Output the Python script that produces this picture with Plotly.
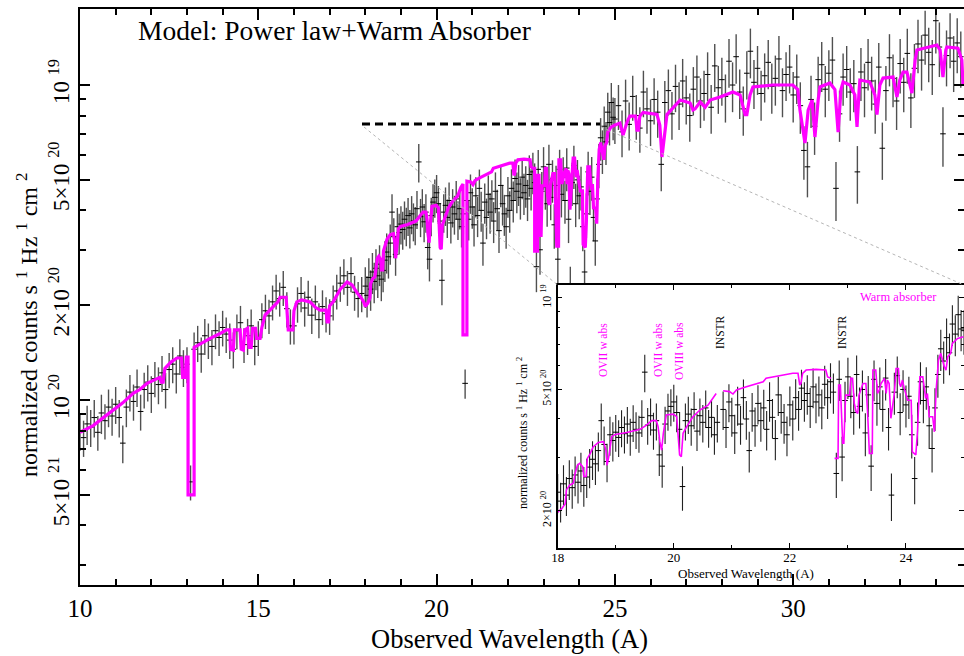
import plotly.graph_objects as go

UNIT = 1e-20  # flux lists below are in units of 1e-20 counts s^-1 Hz^-1 cm^-2

# ---------------- observed data (wavelength, flux, 1-sigma error) ----------------
wl_a = [10.0, 10.1, 10.2, 10.3, 10.4, 10.5, 10.6, 10.7, 10.8, 10.9,
        11.0, 11.1, 11.2, 11.3, 11.4, 11.5, 11.6, 11.7, 11.8, 11.9,
        12.0, 12.1, 12.2, 12.3, 12.4, 12.5, 12.6, 12.7, 12.8, 12.9,
        13.0, 13.1, 13.2, 13.3, 13.4, 13.5, 13.6, 13.7, 13.8, 13.9,
        14.0, 14.1, 14.2, 14.3, 14.4, 14.5, 14.6, 14.7, 14.8, 14.9,
        15.0, 15.1, 15.2, 15.3, 15.4, 15.5, 15.6, 15.7, 15.8, 15.9,
        16.0, 16.1, 16.2, 16.3, 16.4, 16.5, 16.6, 16.7, 16.8, 16.9,
        17.0, 17.1, 17.2, 17.3, 17.4, 17.5, 17.6, 17.7, 17.8, 17.9]
flux_a = [0.80, 0.76, 0.84, 0.82, 0.88, 0.79, 0.91, 0.86, 0.95, 0.89,
          0.97, 0.88, 0.73, 0.95, 1.06, 0.99, 1.10, 0.92, 1.08, 1.14,
          1.05, 1.17, 1.12, 1.22, 1.08, 1.25, 1.30, 1.21, 1.38, 1.27,
          1.30, 0.55, 1.45, 1.52, 1.40, 1.60, 1.55, 1.48, 1.66, 1.58,
          1.70, 1.62, 1.55, 1.45, 1.66, 1.76, 1.50, 1.60, 1.72, 1.48,
          1.58, 1.80, 1.92, 1.85, 2.05, 2.22, 2.10, 2.28, 1.95, 1.72,
          1.72, 2.02, 2.18, 1.96, 2.12, 1.86, 2.05, 1.80, 1.98, 1.88,
          1.85, 2.05, 2.22, 2.35, 2.48, 2.28, 2.52, 2.20, 2.10, 2.18]
err_a = [0.11, 0.10, 0.12, 0.11, 0.12, 0.10, 0.13, 0.11, 0.13, 0.12,
         0.13, 0.12, 0.10, 0.13, 0.14, 0.13, 0.15, 0.12, 0.14, 0.15,
         0.14, 0.15, 0.15, 0.16, 0.14, 0.16, 0.17, 0.16, 0.18, 0.17,
         0.17, 0.07, 0.19, 0.20, 0.18, 0.21, 0.20, 0.19, 0.21, 0.20,
         0.22, 0.21, 0.20, 0.19, 0.21, 0.23, 0.19, 0.21, 0.22, 0.19,
         0.20, 0.23, 0.24, 0.23, 0.26, 0.28, 0.26, 0.29, 0.25, 0.22,
         0.22, 0.26, 0.28, 0.25, 0.27, 0.24, 0.26, 0.23, 0.25, 0.24,
         0.24, 0.26, 0.28, 0.30, 0.32, 0.29, 0.32, 0.28, 0.27, 0.28]

wl_b = [18.00, 18.05, 18.10, 18.15, 18.20, 18.25, 18.30, 18.35, 18.40, 18.45,
        18.50, 18.55, 18.60, 18.65, 18.70, 18.75, 18.80, 18.85, 18.90, 18.95,
        19.00, 19.05, 19.10, 19.15, 19.20, 19.25, 19.30, 19.35, 19.40, 19.45,
        19.50, 19.55, 19.60, 19.65, 19.70, 19.75, 19.80, 19.85, 19.90, 19.95,
        20.00, 20.05, 20.10, 20.15, 20.20, 20.25, 20.30, 20.35, 20.40, 20.45,
        20.50, 20.55, 20.60, 20.65, 20.70, 20.75, 20.80, 20.85, 20.90, 20.95,
        21.00, 21.05, 21.10, 21.15, 21.20, 21.25, 21.30, 21.35, 21.40, 21.45,
        21.50, 21.55, 21.60, 21.65, 21.70, 21.75, 21.80, 21.85, 21.90, 21.95,
        22.00, 22.05, 22.10, 22.15, 22.20, 22.25, 22.30, 22.35, 22.40, 22.45,
        22.50, 22.55, 22.60, 22.65, 22.70, 22.75, 22.80, 22.85, 22.90, 22.95,
        23.00, 23.05, 23.10, 23.15, 23.20, 23.25, 23.30, 23.35, 23.40, 23.45,
        23.50, 23.55, 23.60, 23.65, 23.70, 23.75, 23.80, 23.85, 23.90, 23.95,
        24.00, 24.05, 24.10, 24.15, 24.20, 24.25, 24.30, 24.35, 24.40, 24.45,
        24.50, 24.55, 24.60, 24.65, 24.70, 24.75, 24.80, 24.85, 24.90, 24.95]
flux_b = [2.30, 2.15, 2.45, 2.25, 2.55, 2.38, 2.62, 2.48, 2.70, 2.42,
          2.58, 2.78, 2.95, 2.85, 3.15, 3.95, 3.30, 2.90, 3.55, 3.40,
          3.62, 3.48, 3.75, 3.58, 3.85, 3.52, 3.90, 3.70, 3.60, 4.05,
          5.70, 3.82, 4.10, 3.68, 3.95, 3.05, 2.80, 3.85, 4.25, 4.40,
          4.55, 4.20, 3.70, 2.40, 3.95, 4.15, 3.80, 4.30, 3.65, 4.10,
          3.90, 4.35, 3.75, 4.05, 3.55, 3.90, 1.13, 4.30, 3.75, 4.55,
          4.10, 3.60, 4.45, 3.85, 4.70, 4.00, 3.15, 4.25, 3.80, 4.50,
          3.95, 4.35, 3.70, 4.60, 4.05, 3.45, 4.80, 4.20, 3.90, 3.55,
          4.45, 4.00, 4.70, 4.30, 5.05, 4.60, 4.85, 4.40, 5.10, 4.55,
          4.80, 4.35, 5.20, 4.70, 5.30, 4.90, 2.65, 5.40, 3.00, 4.60,
          5.50, 4.75, 4.20, 5.60, 4.40, 5.00, 3.60, 4.80, 2.80, 5.40,
          4.50, 5.10, 4.30, 5.45, 3.75, 2.25, 4.90, 5.55, 4.20, 5.00,
          4.45, 4.75, 3.55, 2.55, 3.90, 5.30, 4.60, 5.10, 3.80, 3.20,
          4.35, 5.60, 6.80, 6.20, 7.40, 6.60, 8.20, 7.60, 8.80, 7.90]
err_b = [0.34, 0.32, 0.37, 0.33, 0.38, 0.35, 0.39, 0.37, 0.40, 0.36,
         0.38, 0.41, 0.43, 0.42, 0.46, 0.55, 0.48, 0.42, 0.52, 0.50,
         0.50, 0.48, 0.52, 0.50, 0.53, 0.49, 0.54, 0.51, 0.50, 0.56,
         0.80, 0.53, 0.57, 0.51, 0.55, 0.45, 0.42, 0.54, 0.59, 0.61,
         0.63, 0.58, 0.52, 0.40, 0.55, 0.58, 0.53, 0.60, 0.51, 0.57,
         0.55, 0.61, 0.53, 0.57, 0.50, 0.55, 0.12, 0.62, 0.54, 0.65,
         0.60, 0.53, 0.65, 0.56, 0.69, 0.58, 0.48, 0.62, 0.56, 0.66,
         0.58, 0.64, 0.55, 0.68, 0.60, 0.52, 0.71, 0.62, 0.58, 0.53,
         0.66, 0.60, 0.70, 0.64, 0.75, 0.68, 0.72, 0.66, 0.76, 0.68,
         0.72, 0.65, 0.78, 0.70, 0.80, 0.74, 0.45, 0.82, 0.50, 0.70,
         0.85, 0.73, 0.65, 0.86, 0.68, 0.77, 0.58, 0.74, 0.48, 0.83,
         0.70, 0.80, 0.67, 0.85, 0.60, 0.40, 0.77, 0.87, 0.66, 0.78,
         0.70, 0.75, 0.58, 0.45, 0.63, 0.84, 0.73, 0.81, 0.61, 0.53,
         0.70, 0.90, 1.05, 0.98, 1.15, 1.03, 1.25, 1.17, 1.35, 1.22]

wl_c = [25.0, 25.1, 25.2, 25.3, 25.4, 25.5, 25.6, 25.7, 25.8, 25.9,
        26.0, 26.1, 26.2, 26.3, 26.4, 26.5, 26.6, 26.7, 26.8, 26.9,
        27.0, 27.1, 27.2, 27.3, 27.4, 27.5, 27.6, 27.7, 27.8, 27.9,
        28.0, 28.1, 28.2, 28.3, 28.4, 28.5, 28.6, 28.7, 28.8, 28.9,
        29.0, 29.1, 29.2, 29.3, 29.4, 29.5, 29.6, 29.7, 29.8, 29.9,
        30.0, 30.1, 30.2, 30.3, 30.4, 30.5, 30.6, 30.7, 30.8, 30.9,
        31.0, 31.1, 31.2, 31.3, 31.4, 31.5, 31.6, 31.7, 31.8, 31.9,
        32.0, 32.1, 32.2, 32.3, 32.4, 32.5, 32.6, 32.7, 32.8, 32.9,
        33.0, 33.1, 33.2, 33.3, 33.4, 33.5, 33.6, 33.7, 33.8, 33.9,
        34.0, 34.1, 34.2, 34.3, 34.4, 34.5, 34.6, 34.7]
flux_c = [7.8, 8.6, 7.1, 8.9, 7.5, 9.2, 8.0, 7.3, 9.5, 8.4,
          7.7, 9.0, 8.2, 5.6, 8.8, 9.6, 8.1, 9.9, 8.7, 10.3,
          9.1, 8.0, 9.7, 10.6, 8.9, 9.4, 10.8, 8.5, 11.5, 9.8,
          10.4, 9.2, 11.9, 10.0, 12.3, 9.5, 8.4, 10.9, 12.8, 10.2,
          11.3, 9.4, 10.7, 11.8, 9.9, 10.5, 12.1, 9.6, 10.8, 11.4,
          9.3, 10.6, 8.6, 6.2, 5.5, 9.0, 7.4, 10.4, 11.6, 9.7,
          10.9, 12.0, 4.7, 8.1, 10.6, 11.2, 9.5, 10.1, 5.3, 11.0,
          9.8, 11.8, 10.3, 8.7, 11.4, 6.3, 9.6, 12.2, 10.5, 8.9,
          11.7, 10.2, 12.6, 9.1, 11.3, 13.5, 12.0, 14.4, 12.7, 11.6,
          16.0, 13.2, 7.0, 12.4, 14.1, 11.9, 13.6, 12.3]
err_c = [1.3, 1.4, 1.2, 1.5, 1.3, 1.5, 1.3, 1.2, 1.6, 1.4,
         1.3, 1.5, 1.4, 1.0, 1.5, 1.6, 1.4, 1.7, 1.5, 1.8,
         1.6, 1.4, 1.7, 1.8, 1.6, 1.7, 1.9, 1.5, 2.0, 1.7,
         1.8, 1.6, 2.1, 1.8, 2.2, 1.7, 1.5, 1.9, 2.3, 1.8,
         2.0, 1.7, 1.9, 2.1, 1.8, 1.9, 2.2, 1.7, 1.9, 2.0,
         1.7, 1.9, 1.6, 1.2, 1.1, 1.7, 1.4, 1.9, 2.1, 1.8,
         2.0, 2.2, 1.0, 1.5, 2.0, 2.1, 1.8, 1.9, 1.1, 2.1,
         1.9, 2.2, 2.0, 1.7, 2.2, 1.3, 1.9, 2.3, 2.0, 1.7,
         2.3, 2.0, 2.5, 1.8, 2.2, 2.6, 2.4, 2.8, 2.5, 2.3,
         3.4, 2.6, 1.5, 2.5, 2.8, 2.4, 2.7, 2.5]

# ---------------- model: power law + warm absorber (main panel) ----------------
wl_model = [10.00, 10.20, 10.37, 10.60, 10.93, 11.20, 11.49, 11.68, 11.88, 12.10,
            12.24, 12.28, 12.33, 12.38, 12.55, 12.72, 12.85, 12.88, 12.95, 12.98,
            13.03, 13.03, 13.20, 13.20, 13.45, 13.65, 13.90, 14.11, 14.20, 14.22,
            14.30, 14.33, 14.49, 14.52, 14.58, 14.62, 14.70, 14.74, 14.80, 14.84,
            14.92, 14.95, 15.05, 15.10, 15.19, 15.38, 15.55, 15.61, 15.78, 15.84,
            15.97, 16.00, 16.08, 16.22, 16.45, 16.60, 16.73, 16.90, 16.93, 16.97,
            17.00, 17.10, 17.30, 17.49, 17.63, 17.77, 17.90, 17.97,
            18.00, 18.07, 18.13, 18.15, 18.21, 18.27, 18.30, 18.34, 18.38, 18.43,
            18.45, 18.49, 18.51, 18.56, 18.61, 18.70, 18.79, 18.83, 18.85, 18.88,
            18.93, 18.99, 19.19, 19.42, 19.53, 19.62, 19.70, 19.73, 19.76, 19.79,
            19.82, 19.87, 19.99, 20.05, 20.10, 20.13, 20.16, 20.22, 20.33, 20.45,
            20.59, 20.68, 20.73, 20.74, 20.74, 20.85, 20.85, 20.96, 21.02, 21.08,
            21.25, 21.36, 21.54, 21.59, 21.77, 21.94, 22.05, 22.14, 22.17, 22.19,
            22.22, 22.28, 22.45, 22.62, 22.65, 22.71, 22.75, 22.75, 22.83, 22.84,
            22.87, 22.91, 22.93, 22.96, 23.03, 23.05, 23.08, 23.11, 23.14, 23.17,
            23.19, 23.26, 23.31, 23.34, 23.37, 23.42, 23.43, 23.48, 23.51, 23.54,
            23.57, 23.63, 23.66, 23.68, 23.71, 23.74, 23.77, 23.80, 23.83, 23.87,
            23.89, 23.91, 23.94, 23.97, 24.03, 24.09, 24.11, 24.17, 24.20, 24.24,
            24.29, 24.32, 24.34, 24.37, 24.40, 24.46, 24.49, 24.52, 24.56, 24.60,
            24.66, 24.69, 24.72, 24.77, 24.80, 24.89, 24.99,
            25.14, 25.23, 25.34, 25.42, 25.58, 25.62, 25.66, 25.70, 25.79, 26.18,
            26.26, 26.32, 26.38, 26.46, 26.83, 27.11, 27.19, 27.25, 27.39, 27.53,
            27.67, 27.95, 28.31, 28.51, 28.65, 28.70, 28.79, 28.87, 29.43, 29.99,
            30.13, 30.19, 30.33, 30.42, 30.53, 30.61, 30.70, 30.75, 31.03, 31.17,
            31.26, 31.34, 31.40, 31.59, 31.73, 31.79, 31.85, 31.87, 32.15, 32.29,
            32.35, 32.43, 32.52, 32.80, 32.91, 32.99, 33.08, 33.19, 33.33, 33.42,
            33.47, 33.70, 34.03, 34.12, 34.20, 34.28, 34.31, 34.62, 34.73, 34.76,
            34.80]
flux_model = [0.79, 0.81, 0.83, 0.87, 0.93, 0.98, 1.05, 1.08, 1.13, 1.16,
              1.18, 1.14, 1.14, 1.26, 1.32, 1.36, 1.36, 1.18, 1.18, 1.37,
              1.37, 0.50, 0.50, 1.47, 1.53, 1.57, 1.62, 1.67, 1.67, 1.45,
              1.44, 1.67, 1.67, 1.45, 1.44, 1.67, 1.69, 1.47, 1.47, 1.69,
              1.69, 1.57, 1.57, 1.70, 1.86, 1.96, 2.05, 2.12, 2.12, 1.67,
              1.67, 1.92, 2.05, 2.08, 2.05, 1.97, 1.93, 1.93, 1.77, 1.77,
              1.99, 2.05, 2.25, 2.37, 2.32, 2.19, 2.10, 2.03,
              1.98, 2.03, 2.11, 2.34, 2.43, 2.46, 2.65, 2.82, 2.86, 2.79,
              2.59, 2.59, 2.97, 3.08, 3.24, 3.35, 3.37, 3.16, 2.82, 3.01,
              3.50, 3.56, 3.61, 3.70, 3.82, 3.95, 3.95, 3.77, 3.37, 3.16,
              3.59, 4.12, 4.15, 4.07, 3.05, 3.01, 3.59, 3.77, 4.07, 4.28,
              4.44, 4.73, 4.85, 4.85, 1.61, 1.61, 4.95, 4.92, 4.83, 4.98,
              5.10, 5.17, 5.30, 5.44, 5.53, 5.62, 5.65, 5.65, 5.17, 5.23,
              5.65, 5.79, 5.82, 5.79, 5.50, 5.44, 5.44, 2.97, 2.97, 5.17,
              5.17, 3.33, 3.33, 4.79, 4.79, 5.44, 5.44, 4.50, 4.23, 4.17,
              4.79, 5.23, 5.23, 4.17, 3.08, 3.08, 5.79, 5.79, 4.85, 4.98,
              5.23, 5.44, 4.85, 5.37, 5.23, 4.02, 4.50, 4.85, 5.86, 5.86,
              5.23, 5.10, 5.37, 5.04, 4.61, 4.61, 3.12, 3.05, 3.68, 5.50,
              5.50, 4.85, 4.67, 4.85, 4.07, 4.07, 3.63, 4.98, 6.24, 6.57,
              5.94, 5.79, 6.40, 6.57, 7.08, 7.35, 7.45,
              7.57, 6.94, 7.63, 7.97, 7.97, 7.19, 7.19, 7.97, 8.18, 8.06,
              7.45, 5.91, 6.69, 8.06, 8.96, 8.77, 8.33, 8.40, 8.83, 8.50,
              8.96, 9.16, 9.50, 9.30, 8.06, 8.06, 9.30, 9.86, 10.00, 10.00,
              9.67, 8.33, 6.54, 8.33, 8.96, 6.84, 8.96, 9.86, 10.15, 9.67,
              7.09, 9.67, 10.22, 10.00, 9.30, 7.36, 9.67, 10.37, 10.22, 9.30,
              8.06, 10.00, 10.52, 10.60, 9.16, 10.37, 10.99, 10.99, 9.43, 12.00,
              12.91, 13.09, 13.40, 12.91, 10.60, 12.91, 13.20, 13.09, 12.00, 10.15,
              10.15]

# ---------------- model in the inset (18-25 A, gaps where not drawn) ----------------
wl_model_in = [18.00, 18.07, 18.13, 18.15, 18.21, 18.27, 18.30, 18.34, 18.38, 18.43,
               18.45, 18.49, 18.51, 18.56, 18.61, 18.70, 18.79, 18.83, 18.85, 18.88,
               18.93, 18.99, 19.19, 19.42, 19.53, 19.62, 19.70, 19.73, 19.76, 19.79,
               19.82, 19.87, 19.99, 20.05, 20.10, 20.13, 20.16, 20.22, 20.33, 20.45,
               20.59, 20.68, 20.73, None, 20.85, 20.96, 21.02, 21.08, 21.25, 21.36,
               21.54, 21.59, 21.77, 21.94, 22.05, 22.14, 22.17, 22.19, 22.22, 22.28,
               22.45, 22.62, 22.65, 22.71, None, 22.77, 22.83, 22.84, 22.87, 22.91,
               22.93, 22.96, 23.03, 23.05, 23.08, 23.11, 23.14, 23.17, 23.19, 23.26,
               23.31, 23.34, 23.37, 23.42, 23.43, 23.48, 23.51, 23.54, 23.57, 23.63,
               23.66, 23.68, 23.71, 23.74, 23.77, 23.80, 23.83, 23.87, 23.89, 23.91,
               23.94, 23.97, 24.03, 24.09, 24.11, 24.17, 24.20, 24.24, 24.29, 24.32,
               24.34, 24.37, 24.40, 24.46, 24.49, 24.52, 24.56, 24.60, 24.66, 24.69,
               24.72, 24.77, 24.80, 24.89, 24.99]
flux_model_in = [1.98, 2.03, 2.11, 2.34, 2.43, 2.46, 2.65, 2.82, 2.86, 2.79,
                 2.59, 2.59, 2.97, 3.08, 3.24, 3.35, 3.37, 3.16, 2.82, 3.01,
                 3.50, 3.56, 3.61, 3.70, 3.82, 3.95, 3.95, 3.77, 3.37, 3.16,
                 3.59, 4.12, 4.15, 4.07, 3.05, 3.01, 3.59, 3.77, 4.07, 4.28,
                 4.44, 4.73, 4.85, None, 4.95, 4.92, 4.83, 4.98, 5.10, 5.17,
                 5.30, 5.44, 5.53, 5.62, 5.65, 5.65, 5.17, 5.23, 5.65, 5.79,
                 5.82, 5.79, 5.50, 5.44, None, 2.97, 2.97, 5.17, 5.17, 3.33,
                 3.33, 4.79, 4.79, 5.44, 5.44, 4.50, 4.23, 4.17, 4.79, 5.23,
                 5.23, 4.17, 3.08, 3.08, 5.79, 5.79, 4.85, 4.98, 5.23, 5.44,
                 4.85, 5.37, 5.23, 4.02, 4.50, 4.85, 5.86, 5.86, 5.23, 5.10,
                 5.37, 5.04, 4.61, 4.61, 3.12, 3.05, 3.68, 5.50, 5.50, 4.85,
                 4.67, 4.85, 4.07, 4.07, 3.63, 4.98, 6.24, 6.57, 5.94, 5.79,
                 6.40, 6.57, 7.08, 7.35, 7.45]

# ---------------- tick values / labels ----------------
x_ticks = [10, 15, 20, 25, 30]
x_minor = [11, 12, 13, 14, 16, 17, 18, 19, 21, 22, 23, 24, 26, 27, 28, 29, 31, 32, 33, 34]
y_ticks = [5e-21, 1e-20, 2e-20, 5e-20, 1e-19]
y_ticktext = ["5×10 <sup>21</sup>", "10 <sup>20</sup>", "2×10 <sup>20</sup>",
              "5×10 <sup>20</sup>", "10 <sup>19</sup>"]
y_minor = [3e-21, 4e-21, 6e-21, 7e-21, 8e-21, 9e-21,
           3e-20, 4e-20, 6e-20, 7e-20, 8e-20, 9e-20]
xin_ticks = [18, 20, 22, 24]
xin_minor = [19, 21, 23]
yin_ticks = [2e-20, 5e-20, 1e-19]
yin_ticktext = ["2×10 <sup>20</sup>", "5×10 <sup>20</sup>", "10 <sup>19</sup>"]
yin_minor = [3e-20, 4e-20, 6e-20, 7e-20, 8e-20, 9e-20]

# ---------------- layout geometry (pixels) ----------------
W, H = 964, 656
ML, MR, MT, MB = 80, 0, 9, 71
PW, PH = W - ML - MR, H - MT - MB


def px(x):
    return (x - ML) / PW


def py(y):
    return (H - MB - y) / PH


FONT = "Liberation Serif, Times New Roman, serif"
MAGENTA = "#ff00ff"

wl_all = wl_a + wl_b + wl_c
flux_all = [v * UNIT for v in flux_a + flux_b + flux_c]
err_all = [v * UNIT for v in err_a + err_b + err_c]
model_main = [v * UNIT for v in flux_model]
model_in = [None if v is None else v * UNIT for v in flux_model_in]

fig = go.Figure()

# main panel
fig.add_trace(go.Scatter(
    x=wl_all, y=flux_all, mode="markers", xaxis="x", yaxis="y",
    marker=dict(symbol="line-ew", size=4, line=dict(width=1, color="black")),
    error_y=dict(type="data", array=err_all, color="#505050", thickness=1.4, width=0),
    showlegend=False, hoverinfo="skip"))
fig.add_trace(go.Scatter(
    x=wl_model, y=model_main, mode="lines", xaxis="x", yaxis="y",
    line=dict(color=MAGENTA, width=3.2), showlegend=False, hoverinfo="skip"))

# inset panel
fig.add_trace(go.Scatter(
    x=wl_all, y=flux_all, mode="markers", xaxis="x2", yaxis="y2",
    marker=dict(symbol="line-ew", size=4, line=dict(width=1, color="black")),
    error_y=dict(type="data", array=err_all, color="#222222", thickness=1.1, width=0),
    showlegend=False, hoverinfo="skip"))
fig.add_trace(go.Scatter(
    x=wl_model_in, y=model_in, mode="lines", xaxis="x2", yaxis="y2", connectgaps=False,
    line=dict(color=MAGENTA, width=1.6), showlegend=False, hoverinfo="skip"))

axis_common = dict(showgrid=False, zeroline=False, showline=True, linecolor="black",
                   mirror="ticks", ticks="inside", tickcolor="black", automargin=False)

fig.update_layout(
    width=W, height=H,
    margin=dict(l=ML, r=MR, t=MT, b=MB, autoexpand=False),
    paper_bgcolor="white", plot_bgcolor="white",
    font=dict(family=FONT, color="black"),
    xaxis=dict(domain=[0, 1], range=[10, 34.79], anchor="y",
               tickvals=x_ticks, ticktext=[str(v) for v in x_ticks],
               tickfont=dict(size=25), linewidth=2, ticklen=11, tickwidth=2,
               minor=dict(tickvals=x_minor, ticks="inside", ticklen=6, tickwidth=1.5,
                          tickcolor="black"),
               **axis_common),
    yaxis=dict(domain=[0, 1], type="log", range=[-20.587, -18.7587], anchor="x",
               tickvals=y_ticks, ticktext=y_ticktext, tickangle=-90,
               tickfont=dict(size=23), linewidth=2, ticklen=10, tickwidth=2,
               minor=dict(tickvals=y_minor, ticks="inside", ticklen=6, tickwidth=1.5,
                          tickcolor="black"),
               **axis_common),
    xaxis2=dict(domain=[px(557.7), 1.0], range=[18, 25], anchor="y2",
                tickvals=xin_ticks, ticktext=[str(v) for v in xin_ticks],
                tickfont=dict(size=13), linewidth=1.5, ticklen=5, tickwidth=1.2,
                ticklabelstandoff=-3,
                minor=dict(tickvals=xin_minor, ticks="inside", ticklen=3, tickwidth=1,
                           tickcolor="black"),
                **axis_common),
    yaxis2=dict(domain=[py(548), py(285)], type="log", range=[-19.8215, -18.958],
                anchor="x2", tickvals=yin_ticks, ticktext=yin_ticktext, tickangle=-90,
                tickfont=dict(size=12), linewidth=1.5, ticklen=5, tickwidth=1.2,
                minor=dict(tickvals=yin_minor, ticks="inside", ticklen=3, tickwidth=1,
                           tickcolor="black"),
                **axis_common),
)

# zoom indicator: dashed window line and dotted guide lines to the inset
fig.add_shape(type="line", xref="paper", yref="paper",
              x0=px(362), x1=px(600), y0=py(124), y1=py(124),
              line=dict(color="black", width=3, dash="8px,5px"))
fig.add_shape(type="line", xref="paper", yref="paper",
              x0=px(364), y0=py(127), x1=px(557.7), y1=py(285),
              line=dict(color="#b5b5b5", width=1, dash="dot"))
fig.add_shape(type="line", xref="paper", yref="paper",
              x0=px(601), y0=py(127), x1=px(964), y1=py(285),
              line=dict(color="#b5b5b5", width=1, dash="dot"))


def note(text, x, y, size, color="black", angle=0):
    fig.add_annotation(text=text, xref="paper", yref="paper", x=px(x), y=py(y),
                       xanchor="center", yanchor="middle", showarrow=False,
                       textangle=angle, font=dict(family=FONT, size=size, color=color))


note("Model: Power law+Warm Absorber", 334, 31, 27.5)
note("Observed Wavelength (A)", 509, 639, 26.5)
note("normalized counts s <sup>1</sup> Hz <sup>1</sup> cm <sup>2</sup>", 27, 325, 24, angle=-90)

note("Observed Wavelength (A)", 746, 573, 13)
note("normalized counts s <sup>1</sup> Hz <sup>1</sup> cm <sup>2</sup>", 522, 433, 12, angle=-90)
note("Warm absorber", 898, 297, 12.5, MAGENTA)
note("OVII w abs", 603, 350, 11.5, MAGENTA, -90)
note("OVII w abs", 658, 350, 11.5, MAGENTA, -90)
note("OVIII w abs", 679, 351, 11.5, MAGENTA, -90)
note("INSTR", 720, 332, 11.5, "black", -90)
note("INSTR", 842, 332, 11.5, "black", -90)

fig.write_html("out.html",
               config={"displayModeBar": False},
               post_script="document.body.style.margin='0';"
                           "document.body.style.overflow='hidden';")
